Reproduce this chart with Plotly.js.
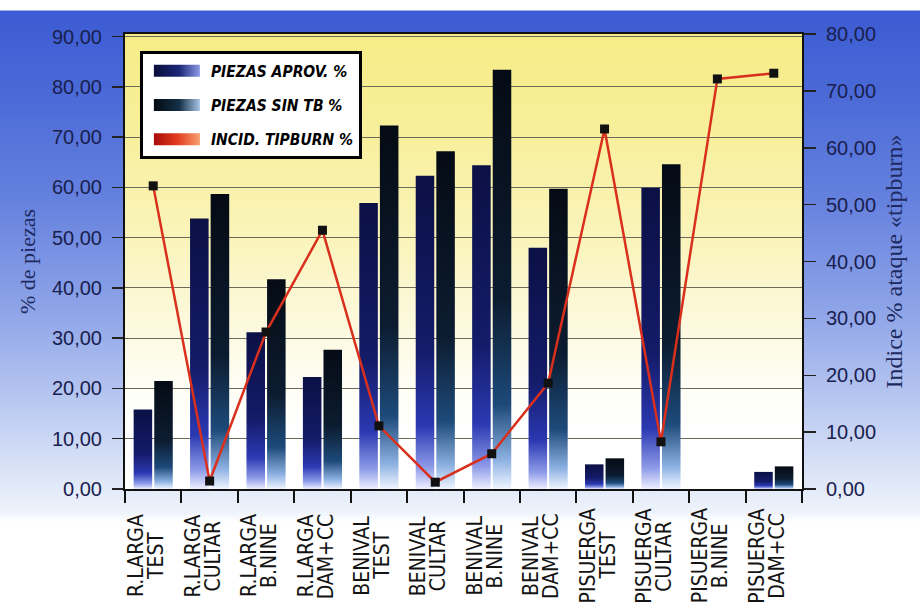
<!DOCTYPE html>
<html>
<head>
<meta charset="utf-8">
<script src="https://cdn.plot.ly/plotly-3.0.1.min.js"></script>
<style>
  html, body { margin: 0; padding: 0; background: #fff; }
  #wrap { position: relative; width: 920px; height: 605px; overflow: hidden;
    background: linear-gradient(to bottom, #ffffff 0px, #ffffff 10px, #3c5bd3 11px, #4a69d7 90px,
      #6581de 200px, #8ea4e8 310px, #bccbf2 410px, #dfe7f8 480px, #eef3fb 512px, #ffffff 522px, #ffffff 605px); }
  #plotbg { position: absolute; left: 125px; top: 34px; width: 677px; height: 455px;
    background: linear-gradient(to bottom, #f6ec86 0%, #f8ef9c 22%, #faf4bb 45%, #fcf8da 62%, #fefdf3 76%, #ffffff 86%, #ffffff 100%); }
  #chart { position: absolute; left: 0; top: 0; width: 920px; height: 605px; }
</style>
</head>
<body>
<div id="wrap">
  <div id="plotbg"></div>
  <div id="chart"></div>
</div>
<svg width="0" height="0" style="position:absolute">
  <defs>
    <!-- column shading: dark crown, brighter blue lower body, fading to white at the foot -->
    <linearGradient id="gAprov" x1="0" y1="0" x2="0" y2="1">
      <stop offset="0" stop-color="#0b1045"/>
      <stop offset="0.55" stop-color="#141b68"/>
      <stop offset="0.8" stop-color="#2b39b2"/>
      <stop offset="0.93" stop-color="#8d9ae8"/>
      <stop offset="1" stop-color="#eef0ff"/>
    </linearGradient>
    <linearGradient id="gSinTB" x1="0" y1="0" x2="0" y2="1">
      <stop offset="0" stop-color="#050b14"/>
      <stop offset="0.55" stop-color="#0c1c30"/>
      <stop offset="0.8" stop-color="#1d4a7a"/>
      <stop offset="0.93" stop-color="#8cb0e2"/>
      <stop offset="1" stop-color="#f0f5ff"/>
    </linearGradient>
    <!-- legend swatches -->
    <linearGradient id="lAprov" x1="0" y1="0" x2="1" y2="0">
      <stop offset="0" stop-color="#0a0e3c"/>
      <stop offset="0.55" stop-color="#1c2778"/>
      <stop offset="1" stop-color="#8c9ae6"/>
    </linearGradient>
    <linearGradient id="lSinTB" x1="0" y1="0" x2="1" y2="0">
      <stop offset="0" stop-color="#040a12"/>
      <stop offset="0.55" stop-color="#143048"/>
      <stop offset="1" stop-color="#a8c4e4"/>
    </linearGradient>
    <linearGradient id="lTip" x1="0" y1="0" x2="1" y2="0">
      <stop offset="0" stop-color="#a80c0c"/>
      <stop offset="0.5" stop-color="#e23a1c"/>
      <stop offset="1" stop-color="#f7a070"/>
    </linearGradient>
  </defs>
</svg>
<script>
// Sites and treatments (one entry per group of bars)
const sites = ['R.LARGA', 'R.LARGA', 'R.LARGA', 'R.LARGA',
               'BENIVAL', 'BENIVAL', 'BENIVAL', 'BENIVAL',
               'PISUERGA', 'PISUERGA', 'PISUERGA', 'PISUERGA'];
const treatments = ['TEST', 'CULTAR', 'B.NINE', 'DAM+CC',
                    'TEST', 'CULTAR', 'B.NINE', 'DAM+CC',
                    'TEST', 'CULTAR', 'B.NINE', 'DAM+CC'];
const categories = sites.map((s, i) => s + ' ' + treatments[i]);

// % of pieces (left axis)
const piezasAprov = [15.8, 53.8, 31.2, 22.3, 56.9, 62.3, 64.4, 48.0, 4.9, 59.9, null, 3.4];
const piezasSinTB = [21.5, 58.7, 41.7, 27.7, 72.3, 67.2, 83.4, 59.7, 6.1, 64.6, null, 4.5];
// tipburn incidence index (right axis)
const incidTipburn = [53.3, 1.4, 27.6, 45.5, 11.1, 1.2, 6.2, 18.6, 63.3, 8.3, 72.1, 73.1];

const leftTicks = [0, 10, 20, 30, 40, 50, 60, 70, 80, 90];
const rightTicks = [0, 10, 20, 30, 40, 50, 60, 70, 80];

const seriesNames = ['PIEZAS APROV. %', 'PIEZAS SIN TB %', 'INCID. TIPBURN %'];

const condensed = 'DejaVu Sans Condensed, DejaVu Sans, sans-serif';
const tickFont = { family: 'Liberation Sans, Arial, sans-serif', size: 20, color: '#19204e' };
const labelFont = { family: condensed, size: 21, color: '#141414' };
const titleFont = { family: 'Liberation Serif, Times New Roman, serif', size: 22, color: '#1d2a60' };

const traces = [
  {
    type: 'bar', name: seriesNames[0], x: categories, y: piezasAprov,
    yaxis: 'y', legendgroup: 'a',
    marker: { color: '#161d62', line: { width: 0 } },
    hoverinfo: 'skip'
  },
  {
    type: 'bar', name: seriesNames[1], x: categories, y: piezasSinTB,
    yaxis: 'y', legendgroup: 'b',
    marker: { color: '#0b1a2c', line: { width: 0 } },
    hoverinfo: 'skip'
  },
  {
    type: 'scatter', mode: 'lines+markers', name: seriesNames[2], x: categories, y: incidTipburn,
    yaxis: 'y2', legendgroup: 'c',
    line: { color: '#d9301e', width: 2.5 },
    marker: { symbol: 'square', size: 9, color: '#111111' },
    hoverinfo: 'skip'
  }
];

// two-line category labels, rotated, centred under each group
const annotations = [];
categories.forEach((cat, i) => {
  annotations.push({ x: cat, xref: 'x', y: -0.147, yref: 'paper', text: sites[i],
    textangle: -90, showarrow: false, xanchor: 'center', yanchor: 'middle',
    xshift: -17, font: labelFont });
  annotations.push({ x: cat, xref: 'x', y: -0.147, yref: 'paper', text: treatments[i],
    textangle: -90, showarrow: false, xanchor: 'center', yanchor: 'middle',
    xshift: 3, font: labelFont });
});

const layout = {
  width: 920, height: 605,
  margin: { l: 125, r: 118, t: 34, b: 116, pad: 0 },
  paper_bgcolor: 'rgba(0,0,0,0)',
  plot_bgcolor: 'rgba(0,0,0,0)',
  barmode: 'group', bargap: 0.27, bargroupgap: 0.1,
  showlegend: true,
  legend: {
    x: 0.022, y: 0.962, xanchor: 'left', yanchor: 'top',
    bgcolor: '#ffffff', bordercolor: '#000000', borderwidth: 3,
    traceorder: 'grouped', tracegroupgap: 11, itemwidth: 58,
    font: { family: condensed, size: 15.5, color: '#000', weight: 'bold', style: 'italic' }
  },
  xaxis: {
    type: 'category', categoryorder: 'array', categoryarray: categories,
    range: [-0.5, categories.length - 0.5], showticklabels: false,
    ticks: 'outside', tickson: 'boundaries', ticklen: 12, tickwidth: 2, tickcolor: '#111',
    showline: true, mirror: true, linecolor: '#111', linewidth: 2, showgrid: false,
    fixedrange: true
  },
  yaxis: {
    range: [0, 90.5], tickvals: leftTicks, tickformat: '.2f',
    ticks: 'outside', ticklen: 11, tickwidth: 1.5, tickcolor: '#222', ticklabelstandoff: 6,
    tickfont: tickFont,
    showline: true, linecolor: '#111', linewidth: 2,
    showgrid: true, gridcolor: '#6b6b5a', gridwidth: 1, zeroline: false,
    title: { text: '% de piezas', font: titleFont, standoff: 10 },
    fixedrange: true
  },
  yaxis2: {
    overlaying: 'y', side: 'right', range: [0, 80], tickvals: rightTicks, tickformat: '.2f',
    ticks: 'outside', ticklen: 12, tickwidth: 1.5, tickcolor: '#222', ticklabelstandoff: 6,
    tickfont: tickFont,
    showline: true, linecolor: '#111', linewidth: 2,
    showgrid: false, zeroline: false,
    title: { text: 'Indice % ataque «tipburn»', font: Object.assign({}, titleFont, { size: 24 }), standoff: 10 },
    fixedrange: true
  },
  separators: ',.',
  annotations: annotations
};

const barFills = ['url(#gAprov)', 'url(#gSinTB)'];
const swatchFills = ['url(#lAprov)', 'url(#lSinTB)', 'url(#lTip)'];

Plotly.newPlot('chart', traces, layout, { displayModeBar: false, staticPlot: true }).then(gd => {
  // shaded column fills
  gd.querySelectorAll('.barlayer .trace.bars').forEach((g, i) => {
    g.querySelectorAll('.point path').forEach(p => { p.style.fill = barFills[i]; });
  });
  // wide gradient swatches in the legend
  gd.querySelectorAll('.legend .traces').forEach((item, i) => {
    const swatch = 'M-23,6H23V-6H-23Z';
    const bar = item.querySelector('.legendpoints path.legendundefined, .legendpoints path');
    if (i < 2 && bar) {
      bar.setAttribute('d', swatch);
      bar.style.fill = swatchFills[i];
      bar.style.stroke = 'none';
    }
    if (i === 2) {
      const ln = item.querySelector('.legendlines path');
      if (ln) { ln.style.display = 'none'; }
      const pt = item.querySelector('.legendpoints path');
      if (pt) {
        pt.setAttribute('d', swatch);
        pt.style.fill = swatchFills[2];
        pt.style.stroke = 'none';
      }
    }
  });
});
</script>
</body>
</html>
